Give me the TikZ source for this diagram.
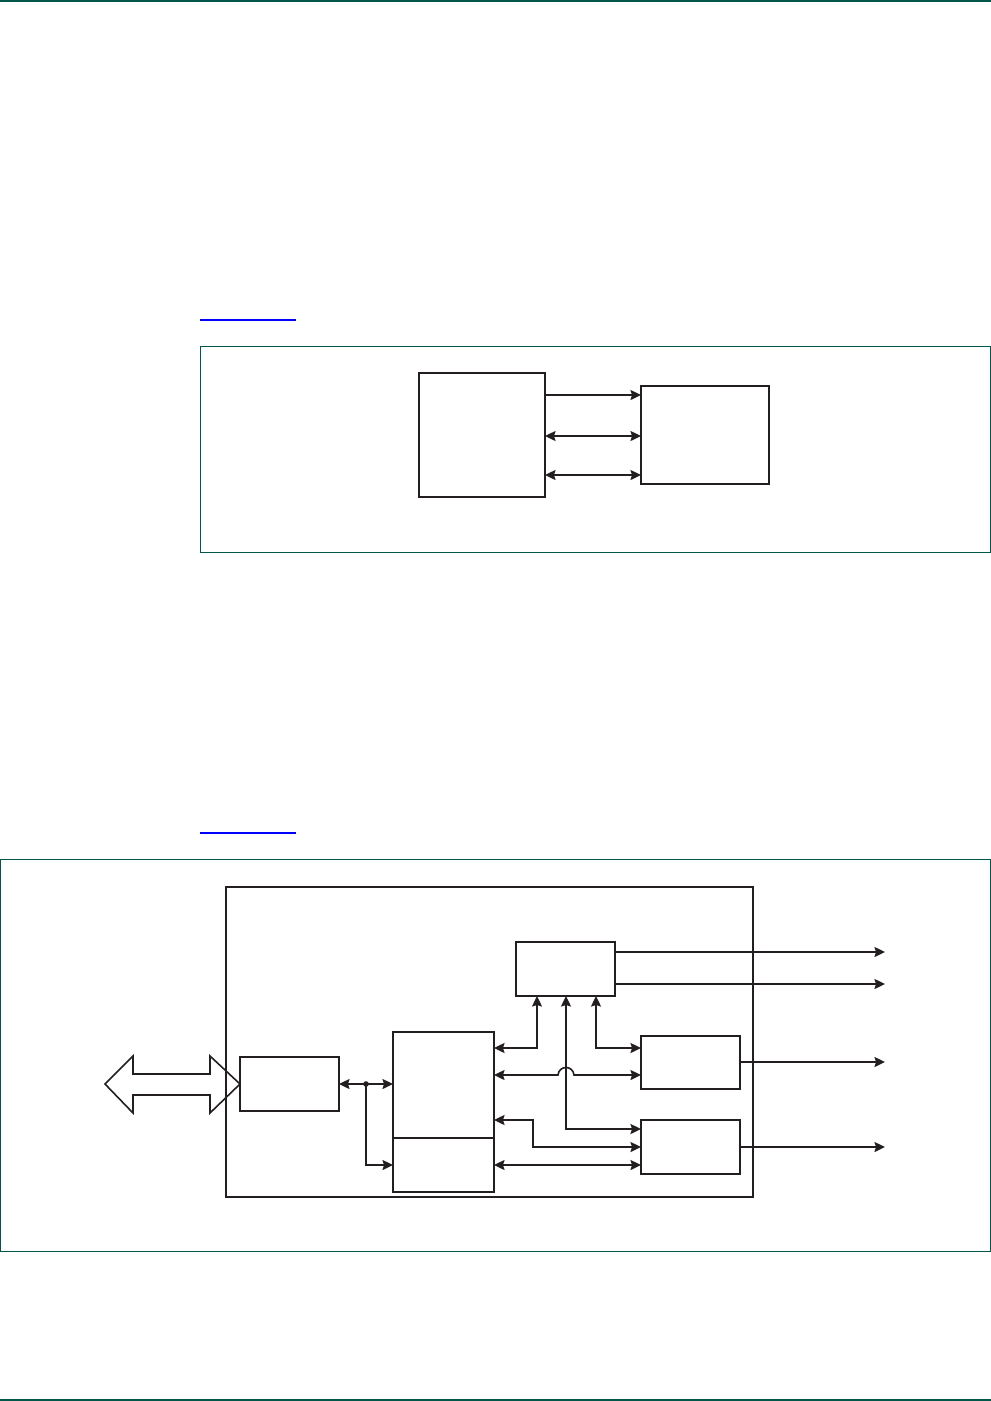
\documentclass[tikz,border=0pt]{standalone}
\usetikzlibrary{arrows.meta}
\definecolor{rulegreen}{HTML}{00574A}
\definecolor{linkblue}{HTML}{0000FF}
\definecolor{ink}{HTML}{231F20}
\begin{document}
\begin{tikzpicture}[x=1pt,y=-1pt,
  tip/.tip={Stealth[length=10.5pt,width=10pt,inset=1.5pt]},
  box/.style={draw=ink,line width=1.6pt,inner sep=0pt,outer sep=0pt,rectangle},
  conn/.style={draw=ink,line width=1.6pt,-tip},
  bconn/.style={draw=ink,line width=1.6pt,tip-tip},
  frame/.style={draw=rulegreen,line width=1pt},
  hrule/.style={draw=rulegreen,line width=1.3pt},
  link/.style={draw=linkblue,line width=1.2pt}]
\useasboundingbox (0,0) rectangle (991,1401);
% page rules
\draw[hrule] (0,1) -- (991,1);
\draw[hrule] (0,1400) -- (991,1400);
% link underlines
\draw[link] (200,320) -- (296,320);
\draw[link] (200,833) -- (296,833);
% ---------- figure 1 ----------
\draw[frame] (200.5,346.5) rectangle (990,552.5);
\node[box,minimum width=126pt,minimum height=124pt] (A) at (482,435) {};
\node[box,minimum width=128pt,minimum height=98pt] (B) at (705,435) {};
\coordinate (a1) at (A.east |- 0,395);
\coordinate (b1) at (B.west |- 0,395);
\coordinate (a2) at (A.east |- 0,436);
\coordinate (b2) at (B.west |- 0,436);
\coordinate (a3) at (A.east |- 0,475);
\coordinate (b3) at (B.west |- 0,475);
\draw[conn] (a1) -- (b1);
\draw[bconn] (a2) -- (b2);
\draw[bconn] (a3) -- (b3);
% ---------- figure 2 ----------
\draw[frame] (0.5,859.5) rectangle (990,1251);
\node[box,minimum width=527pt,minimum height=310pt] (I) at (489.5,1042) {};
\node[box,minimum width=99pt,minimum height=54pt] (C) at (565.5,969) {};
\node[box,minimum width=101pt,minimum height=160pt] (D) at (443.5,1112) {};
\node[box,minimum width=99pt,minimum height=53pt] (E) at (690.5,1062.5) {};
\node[box,minimum width=99pt,minimum height=54pt] (F) at (690.5,1147) {};
\node[box,minimum width=99pt,minimum height=54pt] (G) at (289.5,1084) {};
% divider in D
\coordinate (dl) at (D.west |- 0,1138);
\coordinate (dr) at (D.east |- 0,1138);
\draw[draw=ink,line width=1.6pt] (dl) -- (dr);
% block double arrow
\draw[draw=ink,line width=1.6pt,line join=miter]
  (105,1084) -- (133,1056) -- (133,1074) -- (210,1074) -- (210,1056)
  -- (G.west) -- (210,1113) -- (210,1095) -- (133,1095) -- (133,1113) -- cycle;
% G to D
\coordinate (j) at (366,1084);
\coordinate (dg) at (D.west |- 0,1084);
\coordinate (dg2) at (D.west |- 0,1165);
\draw[bconn] (G.east) -- (dg);
\draw[conn] (j) |- (dg2);
\fill[ink] (j) circle[radius=2.8pt];
% C outputs
\coordinate (c1) at (C.east |- 0,952);
\coordinate (c2) at (C.east |- 0,984);
\coordinate (o1) at (885,952);
\coordinate (o2) at (885,984);
\draw[conn] (c1) -- (o1);
\draw[conn] (c2) -- (o2);
% E, F outputs
\coordinate (o3) at (885,1062);
\coordinate (o4) at (885,1147);
\coordinate (e0) at (E.east |- 0,1062);
\coordinate (f0) at (F.east |- 0,1147);
\draw[conn] (e0) -- (o3);
\draw[conn] (f0) -- (o4);
% D <-> C
\coordinate (cb1) at (C.south -| 537,0);
\coordinate (d1) at (D.east |- 0,1048);
\draw[bconn] (d1) -| (cb1);
% C <-> E
\coordinate (cb3) at (C.south -| 596,0);
\coordinate (e1) at (E.west |- 0,1048);
\draw[bconn] (cb3) |- (e1);
% C <-> F (vertical at 566)
\coordinate (cb2) at (C.south -| 566,0);
\coordinate (f1) at (F.west |- 0,1129);
\draw[bconn] (cb2) |- (f1);
% D <-> E with hop
\coordinate (d2) at (D.east |- 0,1075);
\coordinate (e2) at (E.west |- 0,1075);
\draw[bconn] (d2) -- (558,1075) .. controls (559,1065) and (573,1065) .. (574,1075) -- (e2);
% D <-> F via step
\coordinate (d3) at (D.east |- 0,1120);
\coordinate (f2) at (F.west |- 0,1147);
\draw[bconn] (d3) -- (533,1120) -- (533,1147) -- (f2);
% D <-> F direct
\coordinate (d4) at (D.east |- 0,1165);
\coordinate (f3) at (F.west |- 0,1165);
\draw[bconn] (d4) -- (f3);
\end{tikzpicture}
\end{document}
